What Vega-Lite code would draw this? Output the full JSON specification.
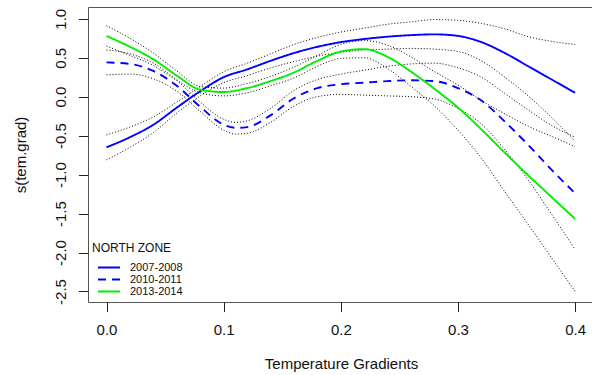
{
  "$schema": "https://vega.github.io/schema/vega-lite/v6.json",
  "width": 506,
  "height": 295,
  "autosize": {"type": "none"},
  "padding": {"left": 88, "top": 7, "right": 0, "bottom": 73},
  "background": "white",
  "config": {
    "font": "Liberation Sans",
    "view": {"stroke": "#555555", "strokeWidth": 1},
    "axis": {"grid": false, "domain": false, "tickColor": "#222222", "tickSize": 9.6, "labelFont": "Liberation Sans", "labelFontSize": 15, "labelColor": "#111111", "titleFont": "Liberation Sans", "titleFontSize": 15, "titleFontWeight": "normal", "titleColor": "#111111"},
    "legend": {"titleFont": "Liberation Sans", "labelFont": "Liberation Sans"}
  },
  "data": {"values": [
    {"series": "2007-2008", "x": 0.00, "fit": -0.65, "lo": -0.81, "hi": -0.49},
    {"series": "2007-2008", "x": 0.02, "fit": -0.52, "lo": -0.65, "hi": -0.39},
    {"series": "2007-2008", "x": 0.04, "fit": -0.36, "lo": -0.46, "hi": -0.26},
    {"series": "2007-2008", "x": 0.06, "fit": -0.14, "lo": -0.21, "hi": -0.07},
    {"series": "2007-2008", "x": 0.08, "fit": 0.07, "lo": 0.01, "hi": 0.13},
    {"series": "2007-2008", "x": 0.10, "fit": 0.25, "lo": 0.18, "hi": 0.32},
    {"series": "2007-2008", "x": 0.12, "fit": 0.35, "lo": 0.27, "hi": 0.43},
    {"series": "2007-2008", "x": 0.14, "fit": 0.46, "lo": 0.37, "hi": 0.55},
    {"series": "2007-2008", "x": 0.16, "fit": 0.56, "lo": 0.45, "hi": 0.67},
    {"series": "2007-2008", "x": 0.18, "fit": 0.64, "lo": 0.52, "hi": 0.76},
    {"series": "2007-2008", "x": 0.20, "fit": 0.70, "lo": 0.57, "hi": 0.83},
    {"series": "2007-2008", "x": 0.22, "fit": 0.74, "lo": 0.60, "hi": 0.88},
    {"series": "2007-2008", "x": 0.24, "fit": 0.77, "lo": 0.61, "hi": 0.93},
    {"series": "2007-2008", "x": 0.26, "fit": 0.79, "lo": 0.62, "hi": 0.96},
    {"series": "2007-2008", "x": 0.28, "fit": 0.80, "lo": 0.61, "hi": 0.99},
    {"series": "2007-2008", "x": 0.30, "fit": 0.78, "lo": 0.58, "hi": 0.98},
    {"series": "2007-2008", "x": 0.32, "fit": 0.70, "lo": 0.46, "hi": 0.94},
    {"series": "2007-2008", "x": 0.34, "fit": 0.56, "lo": 0.25, "hi": 0.87},
    {"series": "2007-2008", "x": 0.36, "fit": 0.39, "lo": 0.01, "hi": 0.77},
    {"series": "2007-2008", "x": 0.38, "fit": 0.22, "lo": -0.27, "hi": 0.71},
    {"series": "2007-2008", "x": 0.40, "fit": 0.05, "lo": -0.57, "hi": 0.67},
    {"series": "2010-2011", "x": 0.00, "fit": 0.44, "lo": 0.28, "hi": 0.60},
    {"series": "2010-2011", "x": 0.02, "fit": 0.42, "lo": 0.29, "hi": 0.55},
    {"series": "2010-2011", "x": 0.04, "fit": 0.33, "lo": 0.23, "hi": 0.43},
    {"series": "2010-2011", "x": 0.06, "fit": 0.14, "lo": 0.07, "hi": 0.21},
    {"series": "2010-2011", "x": 0.08, "fit": -0.13, "lo": -0.19, "hi": -0.07},
    {"series": "2010-2011", "x": 0.10, "fit": -0.36, "lo": -0.43, "hi": -0.29},
    {"series": "2010-2011", "x": 0.11, "fit": -0.40, "lo": -0.48, "hi": -0.33},
    {"series": "2010-2011", "x": 0.12, "fit": -0.39, "lo": -0.47, "hi": -0.31},
    {"series": "2010-2011", "x": 0.14, "fit": -0.24, "lo": -0.33, "hi": -0.15},
    {"series": "2010-2011", "x": 0.16, "fit": -0.02, "lo": -0.12, "hi": 0.08},
    {"series": "2010-2011", "x": 0.18, "fit": 0.11, "lo": 0.00, "hi": 0.22},
    {"series": "2010-2011", "x": 0.20, "fit": 0.16, "lo": 0.03, "hi": 0.29},
    {"series": "2010-2011", "x": 0.22, "fit": 0.18, "lo": 0.02, "hi": 0.34},
    {"series": "2010-2011", "x": 0.24, "fit": 0.20, "lo": 0.01, "hi": 0.39},
    {"series": "2010-2011", "x": 0.26, "fit": 0.21, "lo": 0.00, "hi": 0.42},
    {"series": "2010-2011", "x": 0.28, "fit": 0.20, "lo": -0.03, "hi": 0.43},
    {"series": "2010-2011", "x": 0.30, "fit": 0.11, "lo": -0.15, "hi": 0.37},
    {"series": "2010-2011", "x": 0.32, "fit": -0.05, "lo": -0.35, "hi": 0.25},
    {"series": "2010-2011", "x": 0.34, "fit": -0.32, "lo": -0.68, "hi": 0.04},
    {"series": "2010-2011", "x": 0.36, "fit": -0.62, "lo": -1.07, "hi": -0.17},
    {"series": "2010-2011", "x": 0.38, "fit": -0.94, "lo": -1.51, "hi": -0.37},
    {"series": "2010-2011", "x": 0.40, "fit": -1.24, "lo": -1.96, "hi": -0.52},
    {"series": "2013-2014", "x": 0.00, "fit": 0.78, "lo": 0.65, "hi": 0.91},
    {"series": "2013-2014", "x": 0.02, "fit": 0.64, "lo": 0.53, "hi": 0.75},
    {"series": "2013-2014", "x": 0.04, "fit": 0.48, "lo": 0.40, "hi": 0.56},
    {"series": "2013-2014", "x": 0.06, "fit": 0.27, "lo": 0.21, "hi": 0.33},
    {"series": "2013-2014", "x": 0.08, "fit": 0.09, "lo": 0.05, "hi": 0.13},
    {"series": "2013-2014", "x": 0.10, "fit": 0.06, "lo": 0.01, "hi": 0.11},
    {"series": "2013-2014", "x": 0.12, "fit": 0.11, "lo": 0.05, "hi": 0.17},
    {"series": "2013-2014", "x": 0.14, "fit": 0.20, "lo": 0.14, "hi": 0.26},
    {"series": "2013-2014", "x": 0.16, "fit": 0.31, "lo": 0.24, "hi": 0.38},
    {"series": "2013-2014", "x": 0.18, "fit": 0.46, "lo": 0.39, "hi": 0.53},
    {"series": "2013-2014", "x": 0.20, "fit": 0.58, "lo": 0.49, "hi": 0.67},
    {"series": "2013-2014", "x": 0.22, "fit": 0.61, "lo": 0.50, "hi": 0.72},
    {"series": "2013-2014", "x": 0.24, "fit": 0.51, "lo": 0.36, "hi": 0.66},
    {"series": "2013-2014", "x": 0.26, "fit": 0.32, "lo": 0.13, "hi": 0.51},
    {"series": "2013-2014", "x": 0.28, "fit": 0.10, "lo": -0.12, "hi": 0.32},
    {"series": "2013-2014", "x": 0.30, "fit": -0.14, "lo": -0.43, "hi": 0.15},
    {"series": "2013-2014", "x": 0.32, "fit": -0.42, "lo": -0.79, "hi": -0.05},
    {"series": "2013-2014", "x": 0.34, "fit": -0.72, "lo": -1.22, "hi": -0.22},
    {"series": "2013-2014", "x": 0.36, "fit": -1.01, "lo": -1.64, "hi": -0.38},
    {"series": "2013-2014", "x": 0.38, "fit": -1.29, "lo": -2.07, "hi": -0.51},
    {"series": "2013-2014", "x": 0.40, "fit": -1.57, "lo": -2.50, "hi": -0.64}
  ]},
  "encoding": {
    "x": {"field": "x", "type": "quantitative",
      "scale": {"domain": [-0.0158, 0.4161], "nice": false, "zero": false},
      "axis": {"values": [0, 0.1, 0.2, 0.3, 0.4], "format": ".1f", "title": "Temperature Gradients", "labelBaseline": "middle", "labelPadding": 18, "titleY": 61, "titleBaseline": "middle"}}
  },
  "layer": [
    {
      "mark": {"type": "line", "interpolate": "monotone", "color": "#000000", "strokeWidth": 1, "strokeDash": [1, 2]},
      "encoding": {
        "y": {"field": "lo", "type": "quantitative",
          "scale": {"domain": [-2.635, 1.151], "nice": false, "zero": false},
          "axis": {"values": [-2.5, -2, -1.5, -1, -0.5, 0, 0.5, 1], "labelExpr": "replace(format(datum.value, '.1f'), '\u2212', '-')", "labelAngle": -90, "labelAlign": "center", "labelBaseline": "middle", "labelPadding": 18, "title": "s(tem.grad)", "titleX": -68, "titleBaseline": "middle"}},
        "detail": {"field": "series"}
      }
    },
    {
      "mark": {"type": "line", "interpolate": "monotone", "color": "#000000", "strokeWidth": 1, "strokeDash": [1, 2]},
      "encoding": {
        "y": {"field": "hi", "type": "quantitative"},
        "detail": {"field": "series"}
      }
    },
    {
      "mark": {"type": "line", "interpolate": "monotone", "strokeWidth": 1.9},
      "encoding": {
        "y": {"field": "fit", "type": "quantitative"},
        "color": {"field": "series", "type": "nominal",
          "scale": {"domain": ["2007-2008", "2010-2011", "2013-2014"], "range": ["#0000ff", "#0000ff", "#00ee00"]},
          "legend": {"title": "NORTH ZONE", "orient": "none", "legendX": 4, "legendY": 236, "symbolType": "M-2,0H2", "symbolSize": 121, "symbolStrokeWidth": 2, "labelFontSize": 11, "titleFontSize": 12, "titleFontWeight": "normal", "titleColor": "#111111", "labelColor": "#111111", "rowPadding": -0.5, "titlePadding": 6, "symbolOffset": 10.5, "labelOffset": 14.5, "padding": 0}},
        "strokeDash": {"field": "series", "type": "nominal",
          "scale": {"domain": ["2007-2008", "2010-2011", "2013-2014"], "range": [[1, 0], [8, 6], [1, 0]]},
          "legend": {"title": "NORTH ZONE", "orient": "none", "legendX": 4, "legendY": 236, "symbolType": "M-2,0H2", "symbolSize": 121, "symbolStrokeWidth": 2, "labelFontSize": 11, "titleFontSize": 12, "titleFontWeight": "normal", "titleColor": "#111111", "labelColor": "#111111", "rowPadding": -0.5, "titlePadding": 6, "symbolOffset": 10.5, "labelOffset": 14.5, "padding": 0}}
      }
    }
  ]
}
